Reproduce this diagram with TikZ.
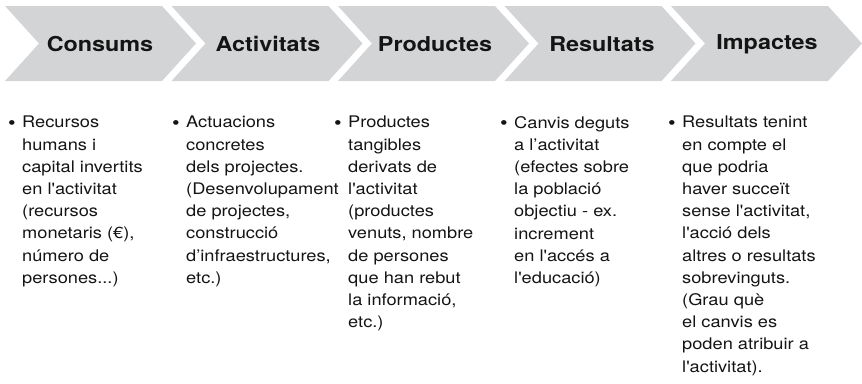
\documentclass[tikz,border=0pt]{standalone}
\usepackage{fontspec}
\setmainfont{TeX Gyre Heros}[Ligatures=TeXOff,FakeStretch=1.14]
\definecolor{chev}{RGB}{211,212,214}
\definecolor{ink}{RGB}{20,20,20}
\tikzset{
  x=1pt,y=-1pt,
  chevfill/.style={fill=chev,draw=none},
  title/.style={font=\fontsize{20.5}{24}\selectfont\bfseries,text=ink,inner sep=0pt,anchor=center},
  bul/.style={font=\fontsize{19}{22.2}\selectfont,text=ink,inner sep=0pt,anchor=base west},
  body/.style={font=\fontsize{16}{22.2}\selectfont,text=ink,inner sep=0pt,anchor=north west,align=left},
}
\newcommand{\chevron}[1]{%
  \path[chevfill] (#1,6) -- ++(157,0) -- ++(34,37.5) -- ++(-34,37.5) -- ++(-157,0) -- ++(34,-37.5) -- cycle;}
\begin{document}
\begin{tikzpicture}
\useasboundingbox (0,0) rectangle (862,383);
\chevron{5}
\chevron{171.5}
\chevron{338}
\chevron{504.5}
\chevron{671}
\node[title] (t1) at (100,44) {Consums};
\node[title] (t2) at (268,44) {Activitats};
\node[title] (t3) at (435,44) {Productes};
\node[title] (t4) at (602,44) {Resultats};
\node[title] (t5) at (767,44) {Impactes};

\node[bul] (b1) at (8,129) {•};
\node[bul] (b2) at (172,129) {•};
\node[bul] (b3) at (334,129) {•};
\node[bul] (b4) at (500,129) {•};
\node[bul] (b5) at (668,129) {•};

\node[body] (x1) at (22,116) {Recursos\\humans i\\capital invertits\\en l'activitat\\(recursos\\monetaris (€),\\número de\\persones...)};
\node[body] (x2) at (186,116) {Actuacions\\concretes\\dels projectes.\\(Desenvolupament\\de projectes,\\construcció\\d’infraestructures,\\etc.)};
\node[body] (x3) at (348,116) {Productes\\tangibles\\derivats de\\l'activitat\\(productes\\venuts, nombre\\de persones\\que han rebut\\la informació,\\etc.)};
\node[body] (x4) at (514,116) {Canvis deguts\\a l’activitat\\(efectes sobre\\la població\\objectiu - ex.\\increment\\en l'accés a\\l'educació)};
\node[body] (x5) at (682,116) {Resultats tenint\\en compte el\\que podria\\haver succeït\\sense l'activitat,\\l'acció dels\\altres o resultats\\sobrevinguts.\\(Grau què\\el canvis es\\poden atribuir a\\l'activitat).};
\end{tikzpicture}
\end{document}
